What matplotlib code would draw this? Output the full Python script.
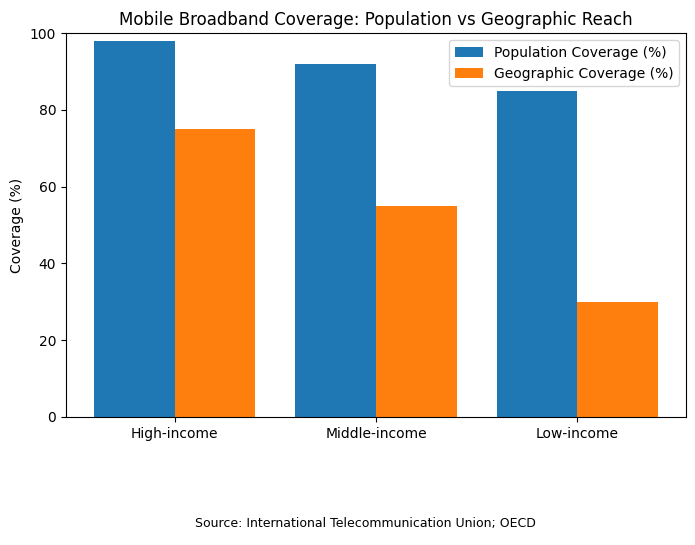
import matplotlib
matplotlib.use("Agg")
import matplotlib.pyplot as plt
import numpy as np

categories = ["High-income", "Middle-income", "Low-income"]
population = [98, 92, 85]
geographic = [75, 55, 30]

fig = plt.figure(figsize=(6.95, 5.45), dpi=100)
ax = fig.add_axes([0.095, 0.235, 0.892, 0.704])
x = np.arange(len(categories))
w = 0.4
ax.bar(x - w/2, population, w, label="Population Coverage (%)", color="#1f77b4")
ax.bar(x + w/2, geographic, w, label="Geographic Coverage (%)", color="#ff7f0e")
ax.set_xticks(x)
ax.set_xticklabels(categories)
ax.set_ylim(0, 100)
ax.set_ylabel("Coverage (%)")
ax.set_title("Mobile Broadband Coverage: Population vs Geographic Reach")
ax.legend(loc="upper right")
fig.text(0.526, 0.033, "Source: International Telecommunication Union; OECD", ha="center", fontsize=9)
fig.savefig("out.png", dpi=100)
